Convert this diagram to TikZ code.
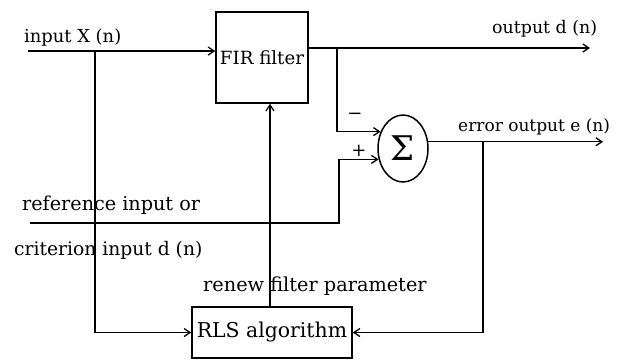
\documentclass[tikz,border=0pt]{standalone}
\usepackage{fontspec}
\setmainfont{DejaVu Serif}
\usetikzlibrary{arrows.meta,shapes.geometric,calc}
\begin{document}
\begin{tikzpicture}[x=1pt,y=-1pt,
  wire/.style={line width=1.5pt},
  arr/.style={wire,-{Straight Barb[length=6pt,width=8pt,line width=1.3pt]}},
  blk/.style={draw,line width=1.5pt,inner sep=0pt},
  lbl/.style={inner sep=0pt,anchor=base west}]
\useasboundingbox (0,0) rectangle (618,360);
\node[blk,minimum width=92pt,minimum height=91pt,font=\fontsize{18.2}{20}\selectfont] (fir) at (262,57.5) {FIR filter};
\node[blk,ellipse,minimum width=50pt,minimum height=67pt,font=\fontsize{34}{36}\selectfont] (sum) at (403,148.5) {Σ};
\node[blk,minimum width=160pt,minimum height=51pt,font=\fontsize{20.4}{22}\selectfont] (rls) at (272,332.5) {RLS algorithm};
\node[lbl,font=\fontsize{17.9}{20}\selectfont] (tin) at (24,42) {input X (n)};
\node[lbl,font=\fontsize{17.4}{20}\selectfont] (tout) at (492,33) {output d (n)};
\node[lbl,font=\fontsize{17}{20}\selectfont] (terr) at (458,131) {error output e (n)};
\node[lbl,font=\fontsize{19.2}{20}\selectfont] (tref) at (22,210) {reference input or};
\node[lbl,font=\fontsize{18.7}{20}\selectfont] (tcri) at (14,255) {criterion input d (n)};
\node[lbl,font=\fontsize{19.3}{20}\selectfont] (tren) at (203,291.5) {renew filter parameter};
\node[font=\fontsize{18}{20}\selectfont,inner sep=0pt] (tm) at (355,116) {−};
\node[font=\fontsize{18}{20}\selectfont,inner sep=0pt] (tp) at (359,151) {+};
\coordinate (inS) at (28,51);
\coordinate (bx) at (95,51);
\coordinate (outE) at (590,48);
\coordinate (ob) at (337,48);
\coordinate (errE) at (603,142);
\coordinate (eb) at (483,142);
\coordinate (refS) at (30,223);
\coordinate (rb) at (339,223);
\coordinate (fb) at (270,0);
\draw[arr] (inS) -- (inS -| fir.west);
\draw[arr] (bx) |- (rls.west);
\draw[arr] (fir.east |- outE) -- (outE);
\draw[arr] (ob) |- (sum.143);
\draw[arr] (refS) -- (rb) |- (sum.204);
\draw[arr] (sum.15) -- (sum.15 -| errE);
\draw[arr] (sum.15 -| eb) |- (rls.east);
\draw[arr] (rls.north -| fb) -- (fir.south -| fb);
\end{tikzpicture}
\end{document}
